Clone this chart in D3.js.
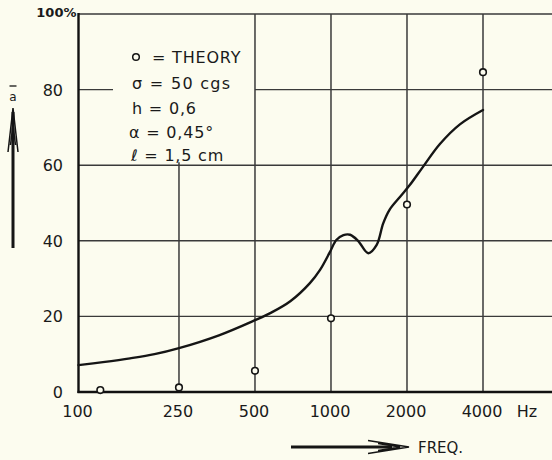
<!DOCTYPE html>
<html><head><meta charset="utf-8">
<script src="https://cdn.jsdelivr.net/npm/d3@7"></script>
<style>
html,body{margin:0;padding:0;background:#fcfcef;}
svg{display:block;}
text{font-family:"DejaVu Sans",sans-serif;fill:#1a1a1a;}
</style></head>
<body>
<svg id="c" width="552" height="460"></svg>
<script>
// ---- data ----
const xTickValues = [100, 250, 500, 1000, 2000, 4000];
const xTickLabels = ["100", "250", "500", "1000", "2000", "4000"];
const yTickValues = [0, 20, 40, 60, 80, 100];
const yTickLabels = ["0", "20", "40", "60", "80", "100%"];

const curveFreq  = [100, 125, 160, 200, 250, 360, 500, 580, 690, 825, 905, 990, 1050, 1120, 1190, 1280, 1405, 1517, 1610, 1710, 1875, 2055, 2310, 2700, 3240, 4000];
const curveValue = [7.1, 7.9, 8.9, 10.0, 11.6, 15.0, 19.0, 21.0, 24.0, 28.8, 32.3, 37.0, 40.2, 41.5, 41.6, 40.0, 36.7, 38.9, 44.6, 48.3, 51.6, 54.8, 59.5, 65.6, 70.8, 74.6];

const theoryFreq  = [122, 250, 500, 1000, 2000, 4000];
const theoryValue = [0.5, 1.2, 5.6, 19.5, 49.6, 84.6];

const legendLines = ["= THEORY", "σ = 50  cgs", "h = 0,6", "α = 0,45°", "ℓ = 1,5 cm"];

// ---- layout ----
const svg = d3.select("#c");
const W = 552;
const x = d3.scaleLog().domain([100, 4000]).range([78.5, 483]);
const y = d3.scaleLinear().domain([0, 100]).range([392, 14]);
const xMaxPx = W;
const gridColor = "#3a3a3a";

const g = svg.append("g");

// horizontal grid
yTickValues.forEach(v => {
  if (v === 0) return;
  if (v === 80) {
    g.append("line").attr("x1", x(100)).attr("x2", 113).attr("y1", y(v)).attr("y2", y(v))
      .attr("stroke", gridColor).attr("stroke-width", 1.4);
    g.append("line").attr("x1", x(500)).attr("x2", xMaxPx).attr("y1", y(v)).attr("y2", y(v))
      .attr("stroke", gridColor).attr("stroke-width", 1.4);
  } else {
    g.append("line").attr("x1", x(100)).attr("x2", xMaxPx).attr("y1", y(v)).attr("y2", y(v))
      .attr("stroke", gridColor).attr("stroke-width", 1.4);
  }
});

// vertical grid
xTickValues.forEach(v => {
  if (v === 100) return;
  const top = v === 250 ? y(60) - 3 : y(100);
  g.append("line").attr("x1", x(v)).attr("x2", x(v)).attr("y1", top).attr("y2", y(0))
    .attr("stroke", gridColor).attr("stroke-width", 1.5);
});

// axes (thick)
g.append("line").attr("x1", x(100)).attr("x2", x(100)).attr("y1", y(100) - 1).attr("y2", y(0) + 1)
  .attr("stroke", "#111").attr("stroke-width", 2.4);
g.append("line").attr("x1", x(100) - 1).attr("x2", xMaxPx).attr("y1", y(0)).attr("y2", y(0))
  .attr("stroke", "#111").attr("stroke-width", 2.4);

// y tick labels
yTickValues.forEach((v, i) => {
  if (v === 100) {
    g.append("text").attr("x", x(100) - 2).attr("y", y(v) + 3)
      .attr("text-anchor", "end").attr("font-size", 13).attr("font-weight", "bold")
      .text(yTickLabels[i]);
  } else {
    g.append("text").attr("x", 63).attr("y", y(v) + 6)
      .attr("text-anchor", "end").attr("font-size", 16).text(yTickLabels[i]);
  }
});

// x tick labels
xTickValues.forEach((v, i) => {
  g.append("text").attr("x", x(v) - 1).attr("y", 417)
    .attr("text-anchor", "middle").attr("font-size", 16).text(xTickLabels[i]);
});
g.append("text").attr("x", 527).attr("y", 417).attr("text-anchor", "middle")
  .attr("font-size", 16).text("Hz");

// curve
const pts = curveFreq.map((f, i) => [f, curveValue[i]]);
g.append("path").datum(pts)
  .attr("fill", "none").attr("stroke", "#151515").attr("stroke-width", 2.4)
  .attr("stroke-linecap", "round")
  .attr("d", d3.line().x(d => x(d[0])).y(d => y(d[1])).curve(d3.curveCatmullRom.alpha(0.5)));

// theory points
g.selectAll("circle.th").data(theoryFreq.map((f, i) => [f, theoryValue[i]])).enter()
  .append("circle").attr("class", "th")
  .attr("cx", d => x(d[0])).attr("cy", d => y(d[1])).attr("r", 3.3)
  .attr("fill", "#fcfcef").attr("stroke", "#151515").attr("stroke-width", 1.6);

// legend
const lg = g.append("g");
lg.append("circle").attr("cx", 136).attr("cy", 57).attr("r", 3.3)
  .attr("fill", "none").attr("stroke", "#151515").attr("stroke-width", 1.5);
const legY = [63, 89, 114, 138, 161];
const legX = [152, 132, 132, 129, 131];
const legLS = [0.8, 1.3, 0.8, 0.8, 0.8];
legendLines.forEach((t, i) => {
  lg.append("text").attr("x", legX[i]).attr("y", legY[i]).attr("font-size", 16)
    .attr("letter-spacing", legLS[i]).text(t);
});

// y-axis label arrow
const ya = g.append("g");
ya.append("line").attr("x1", 13).attr("x2", 13).attr("y1", 248).attr("y2", 112)
  .attr("stroke", "#151515").attr("stroke-width", 3);
ya.append("path").attr("d", "M8,152 L13,108 L18,152 M10.5,145 L13,125 L15.5,145")
  .attr("fill", "none").attr("stroke", "#151515").attr("stroke-width", 1.5);
ya.append("text").attr("x", 13).attr("y", 101).attr("text-anchor", "middle")
  .attr("font-size", 12).text("a");
ya.append("line").attr("x1", 9.5).attr("x2", 16.5).attr("y1", 86).attr("y2", 86)
  .attr("stroke", "#151515").attr("stroke-width", 1.3);

// FREQ arrow
const fa = g.append("g");
fa.append("line").attr("x1", 291).attr("x2", 392).attr("y1", 447).attr("y2", 447)
  .attr("stroke", "#151515").attr("stroke-width", 3.2);
fa.append("path").attr("d", "M368,440.5 L409,447 L368,453.5 M378,443.5 L400,447 L378,450.5")
  .attr("fill", "none").attr("stroke", "#151515").attr("stroke-width", 1.5);
fa.append("text").attr("x", 418).attr("y", 453).attr("font-size", 15).text("FREQ.");
</script>
</body></html>
